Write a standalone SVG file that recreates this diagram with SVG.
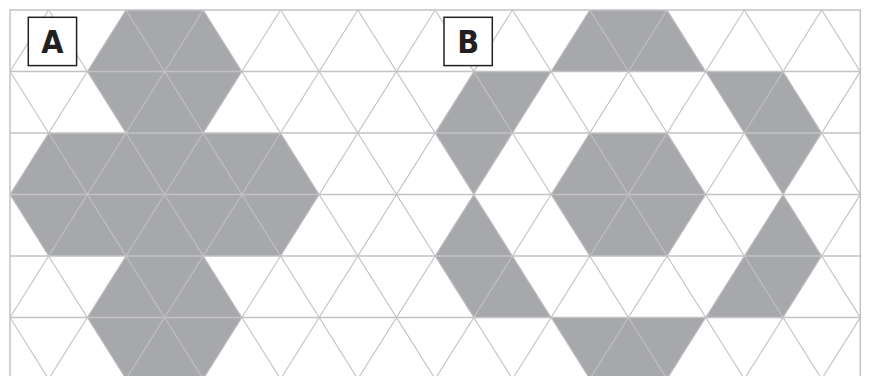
<svg xmlns="http://www.w3.org/2000/svg" width="869" height="376" viewBox="0 0 869 376">
  <style>
    .fill { fill: #A7A8AB; stroke: none; }
    .grid { stroke: #C2C2C4; stroke-width: 1.1; fill: none; }
    .hline { stroke: #C2C2C4; stroke-width: 1.5; fill: none; }
    .label-box { fill: #FFFFFF; stroke: #231F20; stroke-width: 1.5; }
    .label { font-family: "Liberation Sans Narrow", "DejaVu Sans Condensed", "Liberation Sans", sans-serif; font-weight: bold; font-size: 32px; fill: #231F20; text-anchor: middle; }
  </style>
  <defs>
    <clipPath id="frame">
      <rect x="10" y="10" width="850.3" height="370"/>
    </clipPath>
  </defs>
  <rect x="0" y="0" width="869" height="376" fill="#FFFFFF"/>

  <g id="shading-a">
    <polygon class="fill" points="125.95,10 203.25,10 241.9,71.5 203.25,133 125.95,133 87.3,71.5"/>
    <polygon class="fill" points="48.65,133 280.55,133 319.2,194.5 280.55,256 48.65,256 10,194.5"/>
    <polygon class="fill" points="125.95,256 203.25,256 241.9,317.5 203.25,379 125.95,379 87.3,317.5"/>
  </g>
  <g id="shading-b">
    <polygon class="fill" points="589.75,10 667.05,10 705.7,71.5 551.1,71.5"/>
    <polygon class="fill" points="473.8,71.5 551.1,71.5 512.45,133 473.8,194.5 435.15,133"/>
    <polygon class="fill" points="473.8,194.5 512.45,256 551.1,317.5 473.8,317.5 435.15,256"/>
    <polygon class="fill" points="705.7,71.5 783,71.5 821.65,133 783,194.5 744.35,133"/>
    <polygon class="fill" points="783,194.5 821.65,256 783,317.5 705.7,317.5 744.35,256"/>
    <polygon class="fill" points="589.75,133 667.05,133 705.7,194.5 667.05,256 589.75,256 551.1,194.5"/>
    <polygon class="fill" points="551.1,317.5 705.7,317.5 667.05,379 589.75,379"/>
  </g>

  <g id="grid" clip-path="url(#frame)">
    <path class="grid" d="M-183.25,10 L48.65,379 M-105.95,10 L125.95,379 M-28.65,10 L203.25,379 M48.65,10 L280.55,379 M125.95,10 L357.85,379 M203.25,10 L435.15,379 M280.55,10 L512.45,379 M357.85,10 L589.75,379 M435.15,10 L667.05,379 M512.45,10 L744.35,379 M589.75,10 L821.65,379 M667.05,10 L898.95,379 M744.35,10 L976.25,379 M821.65,10 L1053.55,379"/>
    <path class="grid" d="M48.65,10 L-183.25,379 M125.95,10 L-105.95,379 M203.25,10 L-28.65,379 M280.55,10 L48.65,379 M357.85,10 L125.95,379 M435.15,10 L203.25,379 M512.45,10 L280.55,379 M589.75,10 L357.85,379 M667.05,10 L435.15,379 M744.35,10 L512.45,379 M821.65,10 L589.75,379 M898.95,10 L667.05,379 M976.25,10 L744.35,379 M1053.55,10 L821.65,379"/>
    <path class="hline" d="M10,71.5 H860.3 M10,133 H860.3 M10,194.5 H860.3 M10,256 H860.3 M10,317.5 H860.3"/>
  </g>
  <path id="frame-border" class="hline" d="M10,380 V10 H860.3 V380"/>

  <g id="label-a">
    <rect class="label-box" x="28.3" y="17.3" width="48.3" height="48.3"/>
    <text class="label" x="52.5" y="53.3">A</text>
  </g>
  <g id="label-b">
    <rect class="label-box" x="444" y="17.3" width="48.3" height="48.3"/>
    <text class="label" x="468.2" y="53.3">B</text>
  </g>
</svg>
